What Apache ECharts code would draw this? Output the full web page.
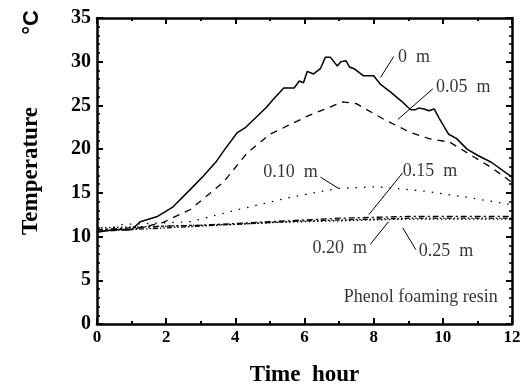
<!DOCTYPE html>
<html><head><meta charset="utf-8">
<script src="https://cdn.jsdelivr.net/npm/echarts@6/dist/echarts.min.js"></script>
<style>html,body{margin:0;padding:0;background:#fff}#c{width:524px;height:385px}</style>
</head><body><div id="c"></div>
<script>
// ---- data ----
var xTicks = [0, 2, 4, 6, 8, 10, 12];
var yTicks = [0, 5, 10, 15, 20, 25, 30, 35];

var t0 = [0,0.5,1,1.25,1.75,2.2,2.7,3.07,3.45,3.7,4.06,4.3,4.64,4.9,5.1,5.4,5.7,5.85,5.97,6.08,6.26,6.46,6.6,6.75,6.95,7.05,7.2,7.3,7.43,7.7,8.0,8.2,8.5,8.8,9.07,9.2,9.3,9.46,9.6,9.75,9.9,10.17,10.4,10.7,11.0,11.4,12];
var v0 = [10.5,10.8,10.8,11.7,12.3,13.4,15.4,16.9,18.6,20.0,21.9,22.5,23.8,24.8,25.7,27.0,27.0,27.8,27.6,28.9,28.6,29.2,30.5,30.5,29.5,30.0,30.1,29.4,29.2,28.4,28.4,27.4,26.5,25.5,24.5,24.5,24.7,24.6,24.4,24.6,23.5,21.7,21.2,20.0,19.3,18.5,16.8];

var t05 = [0,1,1.9,2.7,3.65,4.35,5.0,6.1,7.1,7.5,8.3,9.07,9.6,10.2,10.9,11.4,12];
var v05 = [10.6,10.8,11.6,13.1,16.2,19.6,21.7,23.8,25.4,25.2,23.4,21.9,21.2,20.8,19.1,17.9,16.2];

var t10 = [0,0.75,1.5,2.7,4.1,5.6,6.95,8.1,9.46,10.7,11.9];
var v10 = [10.5,11.4,11.5,11.7,13.1,14.5,15.5,15.7,15.2,14.5,13.7];

var t15 = [0,1,2,3,4,5,6,7,8,9,10,11,12];
var v15 = [10.8,11.0,11.2,11.3,11.5,11.7,11.9,12.1,12.2,12.3,12.3,12.3,12.3];

var t20 = [0,1,2,3,4,5,6,7,8,9,10,11,12];
var v20 = [10.6,10.8,11.0,11.2,11.4,11.6,11.8,11.9,12.0,12.1,12.1,12.1,12.1];

var t25 = [0,1,2,3,4,5,6,7,8,9,10,11,12];
var v25 = [11.0,11.1,11.2,11.3,11.4,11.6,11.7,11.8,11.9,12.0,12.0,12.0,12.0];

// annotations: label, text anchor [t, T], arrow from, arrow to
var annLabels = ['0  m', '0.05  m', '0.10  m', '0.15  m', '0.20  m', '0.25  m'];
var annText = [[8.70,30.5],[9.80,27.1],[4.81,17.3],[8.84,17.5],[6.23,8.7],[9.30,8.3]];
var annFrom = [[8.58,30.6],[9.71,26.9],[6.46,16.8],[8.84,17.3],[7.90,9.1],[9.22,8.5]];
var annTo   = [[8.20,28.2],[8.70,23.4],[6.99,15.5],[7.86,12.5],[8.43,11.7],[8.84,11.0]];
var noteLabel = 'Phenol foaming resin';
var notePos = [11.59, 3.1];

function zip(a, b) { return a.map(function (v, i) { return [v, b[i]]; }); }

var serif = '"Liberation Serif","Times New Roman",serif';
var chart = echarts.init(document.getElementById('c'), null, {renderer: 'canvas'});

function xAx(pos, showLabel) {
  return {
    type: 'value', position: pos, min: 0, max: 12, interval: 2,
    axisLine: {show: true, onZero: false, lineStyle: {color: '#000', width: 2.5}},
    axisTick: {show: true, inside: true, length: 6, lineStyle: {color: '#000', width: 2}},
    minorTick: {show: true, splitNumber: 2, length: 3, lineStyle: {color: '#000', width: 2}},
    splitLine: {show: false},
    axisLabel: {show: showLabel, color: '#000', fontFamily: serif, fontWeight: 'bold', fontSize: 17, margin: 5,
      formatter: function (v) { return xTicks.indexOf(v) >= 0 ? String(v) : ''; }},
    name: showLabel ? 'Time  hour' : '', nameLocation: 'middle', nameGap: 40,
    nameTextStyle: {color: '#000', fontFamily: serif, fontWeight: 'bold', fontSize: 23}
  };
}
function yAx(pos, showLabel) {
  return {
    type: 'value', position: pos, min: 0, max: 35, interval: 5,
    axisLine: {show: true, onZero: false, lineStyle: {color: '#000', width: 2.5}},
    axisTick: {show: true, inside: true, length: 6, lineStyle: {color: '#000', width: 2}},
    minorTick: {show: true, splitNumber: 5, length: 3, lineStyle: {color: '#000', width: 1.5}},
    splitLine: {show: false},
    axisLabel: {show: showLabel, color: '#000', fontFamily: serif, fontWeight: 'bold', fontSize: 20, margin: 6,
      formatter: function (v) { return yTicks.indexOf(v) >= 0 ? String(v) : ''; }},
    name: showLabel ? 'Temperature' : '', nameLocation: 'middle', nameGap: 54, nameRotate: 90,
    nameTextStyle: {color: '#000', fontFamily: serif, fontWeight: 'bold', fontSize: 23}
  };
}

function lineSeries(name, t, v, type, width) {
  return {
    name: name, type: 'line', data: zip(t, v), symbol: 'none', smooth: false,
    xAxisIndex: 0, yAxisIndex: 0, silent: true,
    lineStyle: {color: '#000', width: width, type: type, cap: 'butt'}
  };
}

var arrowData = annFrom.map(function (f, i) {
  return [{coord: f}, {coord: annTo[i]}];
});

var option = {
  animation: false,
  backgroundColor: '#fff',
  grid: {left: 97, right: 12, top: 18, bottom: 61, containLabel: false, outerBoundsMode: 'none'},
  xAxis: [xAx('bottom', true), xAx('top', false)],
  yAxis: [yAx('left', true), yAx('right', false)],
  graphic: [{
    type: 'text', x: 21, y: 10, rotation: Math.PI / 2,
    style: {text: '°C', font: 'bold 22px "Liberation Sans", Arial, sans-serif', fill: '#000', textAlign: 'right', textVerticalAlign: 'top'}
  }],
  series: [
    lineSeries('0 m', t0, v0, 'solid', 1.5),
    lineSeries('0.05 m', t05, v05, [7, 6], 1.3),
    lineSeries('0.10 m', t10, v10, [1.5, 7], 1.3),
    lineSeries('0.15 m', t15, v15, [6, 3, 2, 3], 1.3),
    lineSeries('0.20 m', t20, v20, [5, 2, 1.5, 2, 1.5, 2], 1.3),
    lineSeries('0.25 m', t25, v25, [1.5, 2.5], 1.3),
    {
      name: 'arrows', type: 'line', data: [], silent: true,
      markLine: {
        silent: true, animation: false,
        symbol: ['none', 'arrow'], symbolSize: [0, 8],
        lineStyle: {color: '#000', width: 1, type: 'solid'},
        label: {show: false},
        data: arrowData
      }
    },
    {
      name: 'labels', type: 'scatter', symbolSize: 0, silent: true,
      data: annText.map(function (p, i) { return {value: p, name: annLabels[i]}; }),
      label: {show: true, position: 'right', distance: 0, formatter: '{b}', color: '#000',
        fontFamily: serif, fontSize: 18, align: 'left', verticalAlign: 'middle'}
    },
    {
      name: 'note', type: 'scatter', symbolSize: 0, silent: true,
      data: [{value: notePos, name: noteLabel}],
      label: {show: true, position: 'left', distance: 0, formatter: '{b}', color: '#000',
        fontFamily: serif, fontSize: 18, align: 'right', verticalAlign: 'middle'}
    }
  ]
};
chart.setOption(option);
</script></body></html>
